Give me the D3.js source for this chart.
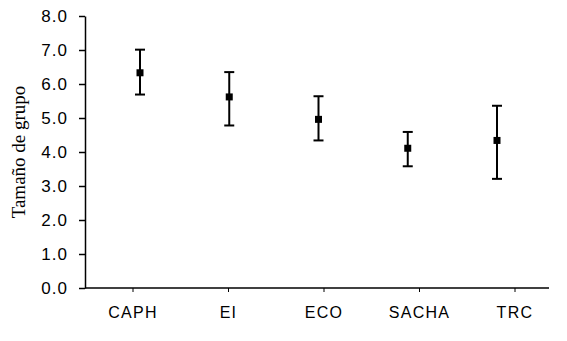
<!DOCTYPE html>
<html>
<head>
    <script src="https://d3js.org/d3.v7.min.js"></script>
    <style>
        body { margin: 0; background: #fff; }
        .tick text { font-family: "Liberation Sans", Arial, sans-serif; fill: #000; }
    </style>
</head>
<body>
    <svg id="chart" width="567" height="341"></svg>
    <script>
        // data
        var groups = ["CAPH", "EI", "ECO", "SACHA", "TRC"];
        var means = [6.33, 5.62, 4.96, 4.11, 4.34];
        var upper = [7.01, 6.35, 5.64, 4.59, 5.36];
        var lower = [5.69, 4.78, 4.34, 3.58, 3.21];
        var yTicks = [0, 1, 2, 3, 4, 5, 6, 7, 8];

        var svg = d3.select("#chart");

        var x0 = 85, x1 = 549, yTop = 16, yBottom = 288;

        var yScale = d3.scaleLinear().domain([0, 8]).range([yBottom, yTop]);
        // tick/label positions and marker positions are a bit offset in the original
        var xTick = d3.scalePoint().domain(groups).range([133, 515]);
        var xMark = d3.scalePoint().domain(groups).range([140, 497]);

        var data = groups.map(function(g, i) {
            return { name: g, mean: means[i], hi: upper[i], lo: lower[i] };
        });

        // y axis
        var yAxis = svg.append("g")
            .attr("transform", "translate(" + x0 + ",0)")
            .call(d3.axisLeft(yScale).tickValues(yTicks).tickFormat(d3.format(".1f")).tickSize(6).tickSizeOuter(0));
        yAxis.select(".domain").attr("stroke", "#000").attr("stroke-width", 1.5);
        yAxis.selectAll(".tick line").attr("stroke", "#000").attr("stroke-width", 1.5);
        yAxis.selectAll(".tick text")
            .attr("x", -17)
            .style("font-size", "17px")
            .style("letter-spacing", "1px");

        // x axis
        var xAxisG = svg.append("g").attr("transform", "translate(0," + yBottom + ")");
        xAxisG.append("line")
            .attr("x1", x0).attr("x2", x1)
            .attr("stroke", "#000").attr("stroke-width", 1.5);
        xAxisG.selectAll(".xt")
            .data(groups)
            .enter().append("line")
            .attr("x1", function(d) { return xTick(d); })
            .attr("x2", function(d) { return xTick(d); })
            .attr("y1", 0).attr("y2", 4)
            .attr("stroke", "#000");
        xAxisG.selectAll(".xl")
            .data(groups)
            .enter().append("text")
            .attr("x", function(d) { return xTick(d); })
            .attr("y", 30)
            .attr("text-anchor", "middle")
            .style("font-family", "Liberation Sans, Arial, sans-serif")
            .style("font-size", "16px")
            .style("letter-spacing", "1.3px")
            .text(function(d) { return d; });

        // y title
        svg.append("text")
            .attr("transform", "translate(25," + ((yTop + yBottom) / 2) + ") rotate(-90)")
            .attr("text-anchor", "middle")
            .style("font-family", "Liberation Serif, Times New Roman, serif")
            .style("font-size", "19px")
            .text("Tamaño de grupo");

        // error bars
        var bars = svg.append("g").selectAll("g")
            .data(data)
            .enter().append("g");

        bars.append("line")
            .attr("x1", function(d) { return xMark(d.name); })
            .attr("x2", function(d) { return xMark(d.name); })
            .attr("y1", function(d) { return yScale(d.hi); })
            .attr("y2", function(d) { return yScale(d.lo); })
            .attr("stroke", "#000").attr("stroke-width", 2);

        bars.selectAll(".cap")
            .data(function(d) { return [{ x: d.name, v: d.hi }, { x: d.name, v: d.lo }]; })
            .enter().append("line")
            .attr("x1", function(d) { return xMark(d.x) - 5; })
            .attr("x2", function(d) { return xMark(d.x) + 5; })
            .attr("y1", function(d) { return yScale(d.v); })
            .attr("y2", function(d) { return yScale(d.v); })
            .attr("stroke", "#000").attr("stroke-width", 2);

        bars.append("rect")
            .attr("x", function(d) { return xMark(d.name) - 3.5; })
            .attr("y", function(d) { return yScale(d.mean) - 3.5; })
            .attr("width", 7).attr("height", 7)
            .attr("fill", "#000");
    </script>
</body>
</html>
